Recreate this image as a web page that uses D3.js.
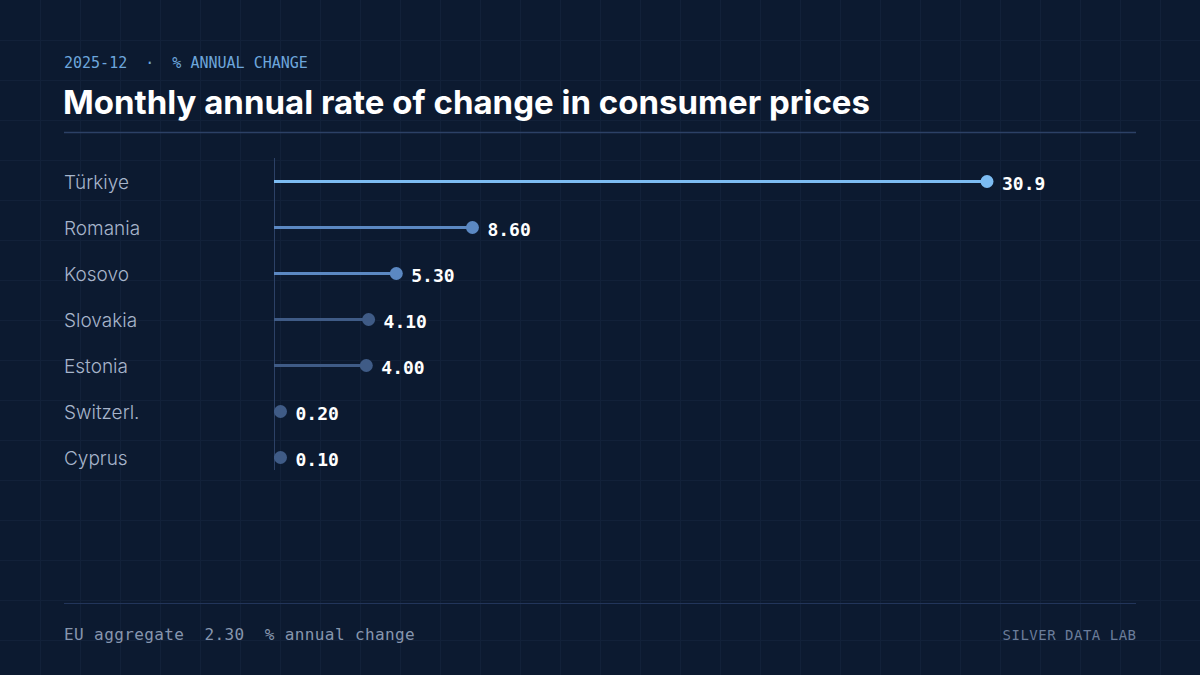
<!DOCTYPE html>
<html>
<head>
<meta charset="utf-8">
<script src="https://cdn.jsdelivr.net/npm/d3@7"></script>
<style>
  html, body { margin: 0; padding: 0; background: #0c1a30; }
  svg { display: block; }
</style>
</head>
<body>
<svg></svg>
<script>
const width = 1200
const height = 675

// data
const countries = ["Türkiye", "Romania", "Kosovo", "Slovakia", "Estonia", "Switzerl.", "Cyprus"]
const values = [30.9, 8.6, 5.3, 4.1, 4.0, 0.2, 0.1]
const valueLabels = ["30.9", "8.60", "5.30", "4.10", "4.00", "0.20", "0.10"]
const euAggregate = 2.30

const mono = "'DejaVu Sans Mono', 'Liberation Mono', monospace"
const sans = "Inter, 'Noto Sans', sans-serif"

const svg = d3.select("svg")
  .attr("width", width)
  .attr("height", height)
  .style("background", "#0c1a30")

// faint background grid
const grid = svg.append("g")
grid.selectAll("line.v")
  .data(d3.range(40, width, 40))
  .enter().append("line")
  .attr("x1", d => d + 0.5).attr("x2", d => d + 0.5)
  .attr("y1", 0).attr("y2", height)
  .attr("stroke", "#122139").attr("stroke-width", 1)
grid.selectAll("line.h")
  .data(d3.range(40, height, 40))
  .enter().append("line")
  .attr("x1", 0).attr("x2", width)
  .attr("y1", d => d + 0.5).attr("y2", d => d + 0.5)
  .attr("stroke", "#122139").attr("stroke-width", 1)

// header
svg.append("text")
  .attr("x", 64).attr("y", 68)
  .text("2025-12  ·  % ANNUAL CHANGE")
  .style("font-family", mono)
  .style("font-size", "15px")
  .style("white-space", "pre")
  .attr("fill", "#6da6dc")

svg.append("text")
  .attr("x", 63).attr("y", 114)
  .text("Monthly annual rate of change in consumer prices")
  .style("font-family", sans)
  .style("font-weight", "700")
  .style("font-size", "33px")
  .attr("fill", "#ffffff")

svg.append("line")
  .attr("x1", 64).attr("x2", 1136)
  .attr("y1", 132.5).attr("y2", 132.5)
  .attr("stroke", "#2c4166").attr("stroke-width", 1.5)

// scales
const x = d3.scaleLinear().domain([0, 30.9]).range([274, 987])
const y = d3.scalePoint().domain(countries).range([181.5, 457.5])
const colour = d3.scaleThreshold().domain([5, 20]).range(["#3f5b86", "#5b88c2", "#7cbcf2"])

const dotX = v => Math.max(x(v), x(0) + 6.5)

const rows = countries.map((c, i) => ({name: c, value: values[i], label: valueLabels[i]}))

// baseline axis
svg.append("line")
  .attr("x1", x(0) + 0.5).attr("x2", x(0) + 0.5)
  .attr("y1", 158).attr("y2", 470)
  .attr("stroke", "#2c4166").attr("stroke-width", 1)

const row = svg.append("g")
  .selectAll("g")
  .data(rows)
  .enter()
  .append("g")

row.append("text")
  .attr("x", 64)
  .attr("y", d => y(d.name) + 7)
  .text(d => d.name)
  .style("font-family", sans)
  .style("font-size", "19px")
  .style("font-weight", "300")
  .attr("fill", "#a7b5cb")

row.append("line")
  .attr("x1", x(0))
  .attr("x2", d => dotX(d.value))
  .attr("y1", d => y(d.name))
  .attr("y2", d => y(d.name))
  .attr("stroke", d => colour(d.value))
  .attr("stroke-width", 3)

row.append("circle")
  .attr("cx", d => dotX(d.value))
  .attr("cy", d => y(d.name))
  .attr("r", 6.5)
  .attr("fill", d => colour(d.value))

row.append("text")
  .attr("x", d => dotX(d.value) + 15)
  .attr("y", d => y(d.name) + 8)
  .text(d => d.label)
  .style("font-family", mono)
  .style("font-weight", "700")
  .style("font-size", "18px")
  .attr("fill", "#ffffff")

// footer
svg.append("line")
  .attr("x1", 64).attr("x2", 1136)
  .attr("y1", 603.5).attr("y2", 603.5)
  .attr("stroke", "#22355a").attr("stroke-width", 1)

svg.append("text")
  .attr("x", 64).attr("y", 640)
  .text("EU aggregate  " + euAggregate.toFixed(2) + "  % annual change")
  .style("font-family", mono)
  .style("font-size", "16px")
  .style("letter-spacing", "0.4px")
  .style("white-space", "pre")
  .attr("fill", "#8796ae")

svg.append("text")
  .attr("x", 1136.5).attr("y", 640)
  .attr("text-anchor", "end")
  .text("SILVER DATA LAB")
  .style("font-family", mono)
  .style("font-size", "14px")
  .style("letter-spacing", "0.5px")
  .attr("fill", "#6b7d9a")
</script>
</body>
</html>
